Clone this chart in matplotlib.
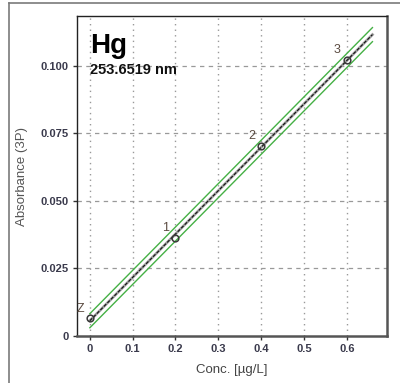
import numpy as np
import matplotlib
matplotlib.use("Agg")
import matplotlib.pyplot as plt
from matplotlib.lines import Line2D

# Data
point_labels = ["Z", "1", "2", "3"]
conc = [0.0, 0.2, 0.4, 0.6]
absorb = [0.0065, 0.0362, 0.0702, 0.1020]
fit_x_end = 0.66
band_halfwidth = 0.0026
x_ticks = [0, 0.1, 0.2, 0.3, 0.4, 0.5, 0.6]
x_ticklabels = ["0", "0.1", "0.2", "0.3", "0.4", "0.5", "0.6"]
y_ticks = [0, 0.025, 0.050, 0.075, 0.100]
y_ticklabels = ["0", "0.025", "0.050", "0.075", "0.100"]

plt.rcParams['font.family'] = ['Liberation Sans', 'DejaVu Sans']

fig = plt.figure(figsize=(4.0, 3.83), dpi=100)
fig.patch.set_facecolor('white')

# outer frame
fig.add_artist(Line2D([9/400, 9/400], [0, 1 - 3/383], color='#7a7a7a', lw=1.2, transform=fig.transFigure))
fig.add_artist(Line2D([9/400, 1], [1 - 3/383, 1 - 3/383], color='#7a7a7a', lw=1.2, transform=fig.transFigure))

ax = fig.add_axes([77/400, (383-336)/383, (387-77)/400, (336-16)/383])
ax.set_xlim(-0.03, 0.694)
ax.set_ylim(0, 0.1183)

# grid
for xv in x_ticks:
    ax.axvline(xv, color='#999999', lw=1.0, ls=(0, (1, 3)), zorder=1)
for yv in y_ticks[1:]:
    ax.axhline(yv, color='#999999', lw=0.9, ls=(0, (3.5, 3.5)), zorder=1)

# fit line
slope, intercept = np.polyfit(conc, absorb, 1)
fx = np.array([0.0, fit_x_end])
fy = intercept + slope * fx
ax.plot(fx, fy + band_halfwidth, color='#45b045', lw=1.0, zorder=3)
ax.plot(fx, fy - band_halfwidth, color='#45b045', lw=1.0, zorder=3)
ax.plot(fx, fy, color='#a0a0a0', lw=2.0, zorder=4)
ax.plot(fx, fy, color='#111111', lw=0.8, ls=(0, (3, 1.5)), zorder=5)

ax.plot(conc, absorb, 'o', ms=4.8, mfc='none', mec='#3a3a3a', mew=1.1, zorder=6)
for lab, xv, yv in zip(point_labels, conc, absorb):
    ax.annotate(lab, (xv, yv), xytext=(-7, 7), textcoords='offset points',
                ha='center', va='center', fontsize=9, color='#5a4a40')

ax.text(0.0, 0.1122, "Hg", fontsize=20, fontweight='bold', color='black',
        va='top', ha='left', zorder=7)
ax.text(0.0, 0.0985, "253.6519 nm", fontsize=10.5, fontweight='bold', color='#111111',
        va='center', ha='left', zorder=7)

ax.set_xticks(x_ticks)
ax.set_xticklabels(x_ticklabels)
ax.set_yticks(y_ticks)
ax.set_yticklabels(y_ticklabels)
ax.tick_params(axis='both', direction='out', length=3, width=1, color='#333333',
               labelsize=8, labelcolor='#3a3a4c', pad=3)
for t in ax.get_xticklabels() + ax.get_yticklabels():
    t.set_fontweight('bold')

for s in ['left', 'top']:
    ax.spines[s].set_color('#222222')
    ax.spines[s].set_linewidth(1.0)
for s in ['right', 'bottom']:
    ax.spines[s].set_color('#555555')
    ax.spines[s].set_linewidth(1.8)

ax.set_xlabel("Conc. [µg/L]", fontsize=9.5, color='#444444', labelpad=7)
ax.set_ylabel("Absorbance (3P)", fontsize=9.5, color='#555555', labelpad=9)

fig.savefig("out.png", dpi=100)
